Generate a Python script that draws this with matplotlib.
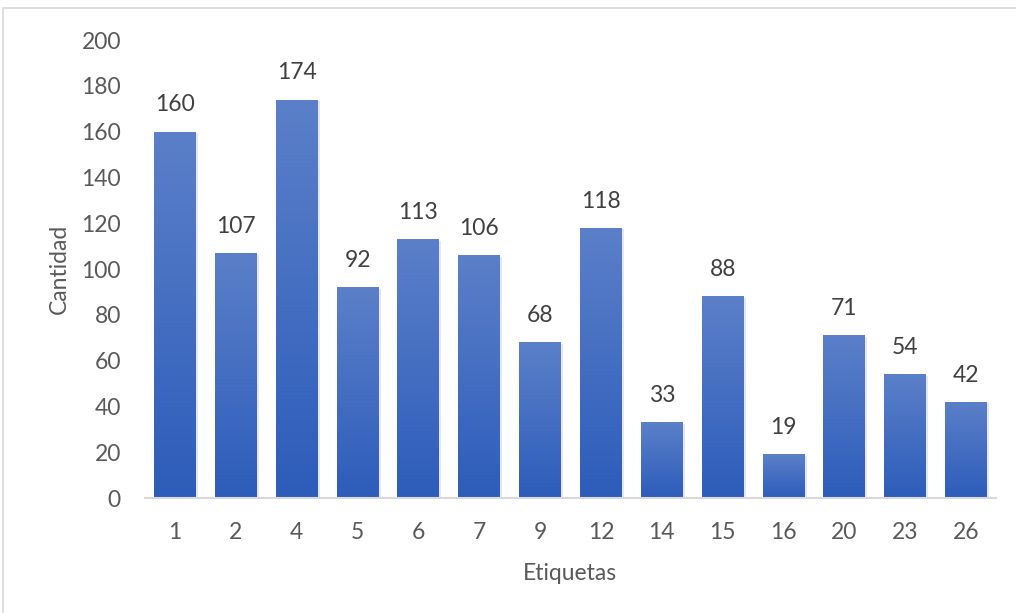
import numpy as np
import matplotlib
matplotlib.use("Agg")
import matplotlib.pyplot as plt
from matplotlib.patches import Rectangle
from matplotlib.colors import LinearSegmentedColormap
import matplotlib.patheffects as pe

labels = ["1", "2", "4", "5", "6", "7", "9", "12", "14", "15", "16", "20", "23", "26"]
cantidad = [160, 107, 174, 92, 113, 106, 68, 118, 33, 88, 19, 71, 54, 42]

plt.rcParams["font.family"] = ["Lato", "DejaVu Sans"]

fig = plt.figure(figsize=(10.16, 6.13), dpi=100)
# outer chart border (only top and left edges visible in the crop)
fig.add_artist(Rectangle((3 / 1016, -0.2), 1.2, 1.2 - 8 / 613,
                         transform=fig.transFigure, fill=False,
                         edgecolor="#d9d9d9", lw=1.2))

ax = fig.add_axes([0.1423, 0.1876, 0.8385, 0.7471])
x = np.arange(len(labels))
grad = LinearSegmentedColormap.from_list("g", ["#2d5cba", "#5b80c9"])
bars = ax.bar(x, cantidad, width=0.69, color="#3f6bc4", zorder=2,
              path_effects=[pe.SimplePatchShadow(offset=(1.5, -1), alpha=0.2,
                                                 shadow_rgbFace="#888888"),
                            pe.Normal()])
g = np.linspace(0, 1, 256).reshape(-1, 1)
for b in bars:
    x0, w, h = b.get_x(), b.get_width(), b.get_height()
    im = ax.imshow(g, cmap=grad, origin="lower", aspect="auto",
                   extent=[x0, x0 + w, 0, h], zorder=3)
    im.set_clip_path(b)

fs = 16.5
for xi, v in zip(x, cantidad):
    ax.text(xi, v + 11.7, str(v), ha="center", va="center", fontsize=fs,
            color="#404040")

ax.set_xlim(-0.5, len(labels) - 0.5)
ax.set_ylim(0, 200)
ax.set_yticks(range(0, 201, 20))
ax.set_xticks(x)
ax.set_xticklabels(labels)
ax.tick_params(axis="both", length=0, labelsize=fs, labelcolor="#595959")
ax.tick_params(axis="x", pad=17.5)
ax.tick_params(axis="y", pad=17)
for s in ["top", "right", "left"]:
    ax.spines[s].set_visible(False)
ax.spines["bottom"].set_color("#d9d9d9")
ax.spines["bottom"].set_linewidth(1.5)
ax.spines["bottom"].set_zorder(4)

ax.set_xlabel("Etiquetas", fontsize=fs, color="#595959", va="center")
ax.set_ylabel("Cantidad", fontsize=fs, color="#595959", va="center")
ax.xaxis.set_label_coords(570 / 1016, 1 - 573 / 613, transform=fig.transFigure)
ax.yaxis.set_label_coords(59 / 1016, 1 - 269 / 613, transform=fig.transFigure)

fig.savefig("out.png", dpi=100)
